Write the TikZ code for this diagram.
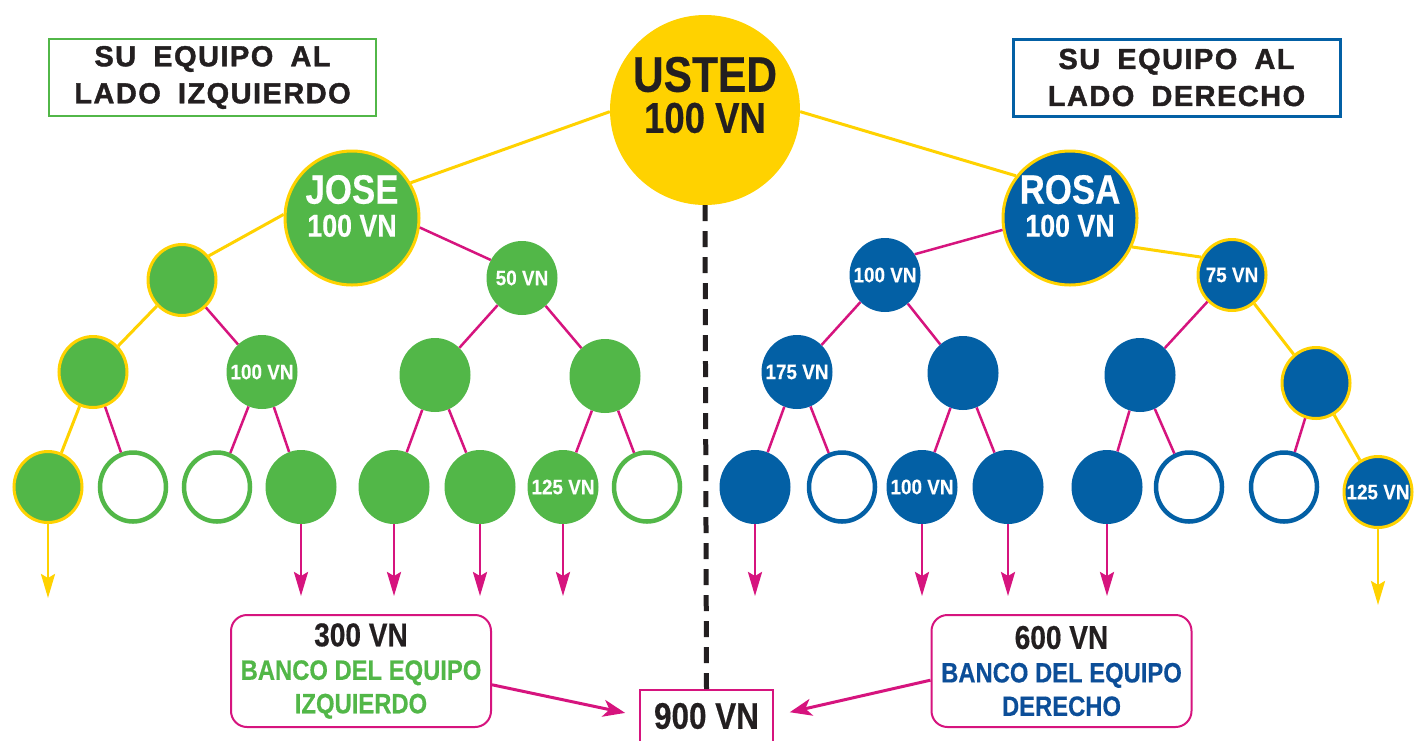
\documentclass[tikz,border=0pt]{standalone}
\usepackage{fontspec}
\setmainfont{Liberation Sans}
\newfontfamily\cond[FakeStretch=0.85,FakeBold=0.4]{Liberation Sans}
\newfontfamily\smallcond[FakeStretch=0.9,FakeBold=0.3]{Liberation Sans}
\newfontfamily\widefont[LetterSpace=5,WordSpace=1.8,FakeBold=1.4]{Liberation Sans}
\newcommand{\vnlabel}[1]{\makebox[0pt][c]{#1}}
\usetikzlibrary{arrows.meta,shapes.geometric}
\definecolor{vgreen}{RGB}{82,183,72}
\definecolor{vblue}{RGB}{3,96,165}
\definecolor{vbluetxt}{RGB}{12,78,152}
\definecolor{vyel}{RGB}{255,210,0}
\definecolor{vmag}{RGB}{214,20,126}
\definecolor{vblack}{RGB}{35,31,32}
\tikzset{
  base/.style={ellipse, minimum width=71, minimum height=74, inner sep=0pt, text=white,
    font=\smallcond\bfseries\fontsize{21}{21}\selectfont},
  gfill/.style={base, fill=vgreen},
  gopen/.style={base, fill=white, draw=vgreen, line width=4.5pt, minimum width=66, minimum height=69},
  gyel/.style={base, fill=vgreen, draw=vyel, line width=3pt, minimum width=68, minimum height=71},
  bfill/.style={base, fill=vblue},
  bopen/.style={base, fill=white, draw=vblue, line width=4.5pt, minimum width=66, minimum height=69},
  byel/.style={base, fill=vblue, draw=vyel, line width=3pt, minimum width=68, minimum height=71},
  yedge/.style={draw=vyel, line width=3pt},
  medge/.style={draw=vmag, line width=2.5pt},
  yarrow/.style={draw=vyel, line width=2.8pt, -{Stealth[length=24pt,width=14pt,inset=4pt]}},
  marrow/.style={draw=vmag, line width=2.8pt, -{Stealth[length=24pt,width=14pt,inset=4pt]}},
  bigarrow/.style={draw=vmag, line width=3pt, -{Stealth[length=22pt,width=17pt,inset=6pt]}},
  header/.style={rectangle, fill=white, line width=2.5pt, minimum width=327, minimum height=77,
    align=center, text=vblack, inner sep=0pt, font=\widefont\bfseries\fontsize{29}{37}\selectfont},
  bank/.style={rectangle, rounded corners=16pt, draw=vmag, line width=2pt, minimum width=260,
    minimum height=112, align=center, inner sep=0pt},
  bigtxt/.style={align=center, text=white, inner sep=0pt}
}
\begin{document}
\begin{tikzpicture}[x=1pt,y=-1pt]
\useasboundingbox[fill=white] (0,0) rectangle (1424,740);

% headers
\node[header, draw=vgreen] (hl) at (212.5,77.5) {SU EQUIPO AL\\LADO IZQUIERDO};
\node[header, draw=vblue, line width=3pt] (hr) at (1176.5,77.5) {SU EQUIPO AL\\LADO DERECHO};

% top circles
\node[circle, fill=vyel, minimum size=190, inner sep=0pt] (usted) at (705,110) {};
\node[align=center, text=vblack, inner sep=0pt, font=\cond\bfseries\fontsize{50}{41}\selectfont] (ustedtxt) at (705,95)
  {USTED\\\fontsize{43}{41}\selectfont 100 VN};
\node[circle, fill=vgreen, draw=vyel, line width=3pt, minimum size=134, inner sep=0pt] (jose) at (352,218) {};
\node[bigtxt, font=\cond\bfseries\fontsize{41}{33}\selectfont] (josetxt) at (352,206)
  {JOSE\\\fontsize{31.5}{33}\selectfont 100 VN};
\node[circle, fill=vblue, draw=vyel, line width=3pt, minimum size=134, inner sep=0pt] (rosa) at (1070,218) {};
\node[bigtxt, font=\cond\bfseries\fontsize{41}{33}\selectfont] (rosatxt) at (1070,206)
  {ROSA\\\fontsize{31.5}{33}\selectfont 100 VN};

% level 2
\node[gyel] (la) at (182,280) {};
\node[gfill] (lb) at (522,278) {\vnlabel{50 VN}};
\node[bfill] (ra) at (885,275) {\vnlabel{100 VN}};
\node[byel] (rb) at (1232,275) {\vnlabel{75 VN}};

% level 3
\node[gyel] (laa) at (93,372) {};
\node[gfill] (lab) at (262,372) {\vnlabel{100 VN}};
\node[gfill] (lba) at (435,375) {};
\node[gfill] (lbb) at (605,376) {};
\node[bfill] (raa) at (797,372) {\vnlabel{175 VN}};
\node[bfill] (rab) at (963,373) {};
\node[bfill] (rba) at (1140,375) {};
\node[byel] (rbb) at (1316,383) {};

% level 4
\node[gyel] (l1) at (48,487) {};
\node[gopen] (l2) at (133,487) {};
\node[gopen] (l3) at (217,487) {};
\node[gfill] (l4) at (301,487) {};
\node[gfill] (l5) at (394,487) {};
\node[gfill] (l6) at (480,487) {};
\node[gfill] (l7) at (563,487) {\vnlabel{125 VN}};
\node[gopen] (l8) at (647,487) {};
\node[bfill] (r1) at (755,487) {};
\node[bopen] (r2) at (842,487) {};
\node[bfill] (r3) at (922,487) {\vnlabel{100 VN}};
\node[bfill] (r4) at (1008,487) {};
\node[bfill] (r5) at (1107,487) {};
\node[bopen] (r6) at (1189,487) {};
\node[bopen] (r7) at (1284,487) {};
\node[byel] (r8) at (1378,492) {\vnlabel{125 VN}};

% edges
\draw[yedge] (usted.181) -- (jose.31);
\draw[yedge] (usted.-1) -- (rosa.142);
\draw[yedge] (jose.177) -- (la.42);
\draw[medge] (jose.-8) -- (lb.150);
\draw[medge] (rosa.190) -- (ra.35);
\draw[yedge] (rosa.-25) -- (rb.150);
\draw[yedge] (la) -- (laa);
\draw[medge] (la) -- (lab);
\draw[medge] (lb) -- (lba);
\draw[medge] (lb) -- (lbb);
\draw[medge] (ra) -- (raa);
\draw[medge] (ra) -- (rab);
\draw[medge] (rb) -- (rba);
\draw[yedge] (rb) -- (rbb);
\draw[yedge] (laa) -- (l1);
\draw[medge] (laa) -- (l2);
\draw[medge] (lab) -- (l3);
\draw[medge] (lab) -- (l4);
\draw[medge] (lba) -- (l5);
\draw[medge] (lba) -- (l6);
\draw[medge] (lbb) -- (l7);
\draw[medge] (lbb) -- (l8);
\draw[medge] (raa) -- (r1);
\draw[medge] (raa) -- (r2);
\draw[medge] (rab) -- (r3);
\draw[medge] (rab) -- (r4);
\draw[medge] (rba) -- (r5);
\draw[medge] (rba) -- (r6);
\draw[medge] (rbb) -- (r7);
\draw[yedge] (rbb) -- (r8);

% down arrows
\coordinate (e1) at (48,598);
\coordinate (e4) at (301,596);
\coordinate (e5) at (394,596);
\coordinate (e6) at (480,596);
\coordinate (e7) at (563,596);
\coordinate (f1) at (755,596);
\coordinate (f3) at (922,596);
\coordinate (f4) at (1008,596);
\coordinate (f5) at (1107,596);
\coordinate (f8) at (1378,605);
\draw[yarrow] (l1) -- (e1);
\draw[marrow] (l4) -- (e4);
\draw[marrow] (l5) -- (e5);
\draw[marrow] (l6) -- (e6);
\draw[marrow] (l7) -- (e7);
\draw[marrow] (r1) -- (f1);
\draw[marrow] (r3) -- (f3);
\draw[marrow] (r4) -- (f4);
\draw[marrow] (r5) -- (f5);
\draw[yarrow] (r8) -- (f8);

% banks
\node[bank, font=\cond\bfseries\fontsize{33}{33.5}\selectfont] (bankl) at (361,671)
  {\color{vblack}300 VN\\
   \fontsize{28}{33.5}\selectfont\color{vgreen}BANCO DEL EQUIPO\\
   \fontsize{28}{33.5}\selectfont\color{vgreen}IZQUIERDO};
\node[bank, font=\cond\bfseries\fontsize{33}{33.5}\selectfont] (bankr) at (1061.5,671)
  {\color{vblack}600 VN\\
   \fontsize{28}{33.5}\selectfont\color{vbluetxt}BANCO DEL EQUIPO\\
   \fontsize{28}{33.5}\selectfont\color{vbluetxt}DERECHO};

% total
\node[rectangle, minimum width=133, minimum height=52, inner sep=0pt, text=vblack,
  font=\cond\bfseries\fontsize{37}{37}\selectfont] (total) at (706.5,716) {900 VN};
\draw[vmag, line width=2.5pt] (total.south west) |- (total.north east) -- (total.south east);

% dashed divider
\draw[vblack, line width=5pt, dash pattern=on 16pt off 10pt] (usted.south) -- (total.north);

% bank arrows
\draw[bigarrow, shorten >=15pt] (bankl.-6.6) -- (total.west);
\draw[bigarrow, shorten >=17pt] (bankr.184.8) -- (total.east);
\end{tikzpicture}
\end{document}
